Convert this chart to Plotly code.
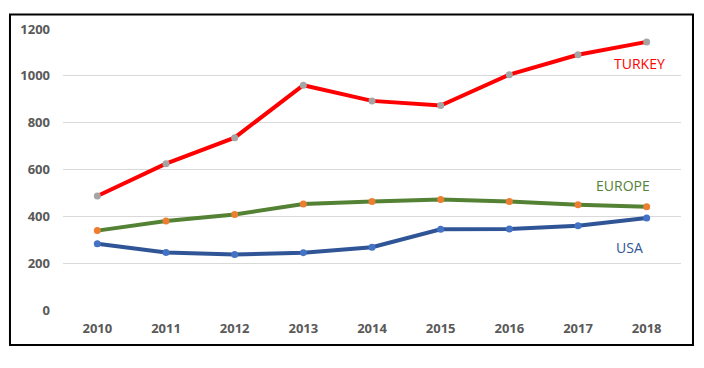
import plotly.graph_objects as go

years = ["2010", "2011", "2012", "2013", "2014", "2015", "2016", "2017", "2018"]
turkey = [487, 625, 736, 960, 893, 873, 1005, 1090, 1145]
europe = [339, 380, 408, 453, 463, 472, 463, 449, 441]
usa = [283, 246, 237, 245, 268, 345, 346, 360, 393]
y_ticks = [0, 200, 400, 600, 800, 1000, 1200]

fig = go.Figure()
fig.add_trace(go.Scatter(x=years, y=turkey, mode="lines+markers", name="TURKEY",
                         line=dict(color="#FF0000", width=4),
                         marker=dict(color="#A5A5A5", size=7)))
fig.add_trace(go.Scatter(x=years, y=europe, mode="lines+markers", name="EUROPE",
                         line=dict(color="#548235", width=4),
                         marker=dict(color="#ED7D31", size=7)))
fig.add_trace(go.Scatter(x=years, y=usa, mode="lines+markers", name="USA",
                         line=dict(color="#2F5597", width=4),
                         marker=dict(color="#4472C4", size=7)))

fig.add_annotation(x=7.9, y=1051, text="TURKEY", showarrow=False,
                   font=dict(color="#FF0000", size=14, family="Open Sans"))
fig.add_annotation(x=7.66, y=530, text="EUROPE", showarrow=False,
                   font=dict(color="#548235", size=14, family="Open Sans"))
fig.add_annotation(x=7.75, y=269, text="USA", showarrow=False,
                   font=dict(color="#2F5597", size=14, family="Open Sans"))

fig.add_shape(type="rect", xref="paper", yref="paper",
              x0=-0.0858, x1=1.0194, y0=-0.1246, y1=1.052,
              line=dict(color="black", width=2), layer="below")

fig.update_layout(
    width=704, height=368,
    margin=dict(l=55, r=31, t=21, b=66),
    paper_bgcolor="white", plot_bgcolor="white",
    showlegend=False,
    font=dict(family="Open Sans", color="#595959", size=13),
)
fig.update_xaxes(type="category", range=[-0.5, 8.5], showgrid=False, showline=False,
                 zeroline=False, ticks="", ticklabelstandoff=9,
                 tickfont=dict(size=13, color="#595959", weight="bold"))
fig.update_yaxes(range=[0, 1200], tickvals=y_ticks, showgrid=True, gridcolor="#D9D9D9",
                 gridwidth=1, zeroline=False, showline=False, ticks="", ticklen=0,
                 ticklabelstandoff=12,
                 tickfont=dict(size=13, color="#595959", weight="bold"))

fig.write_html("out.html")
